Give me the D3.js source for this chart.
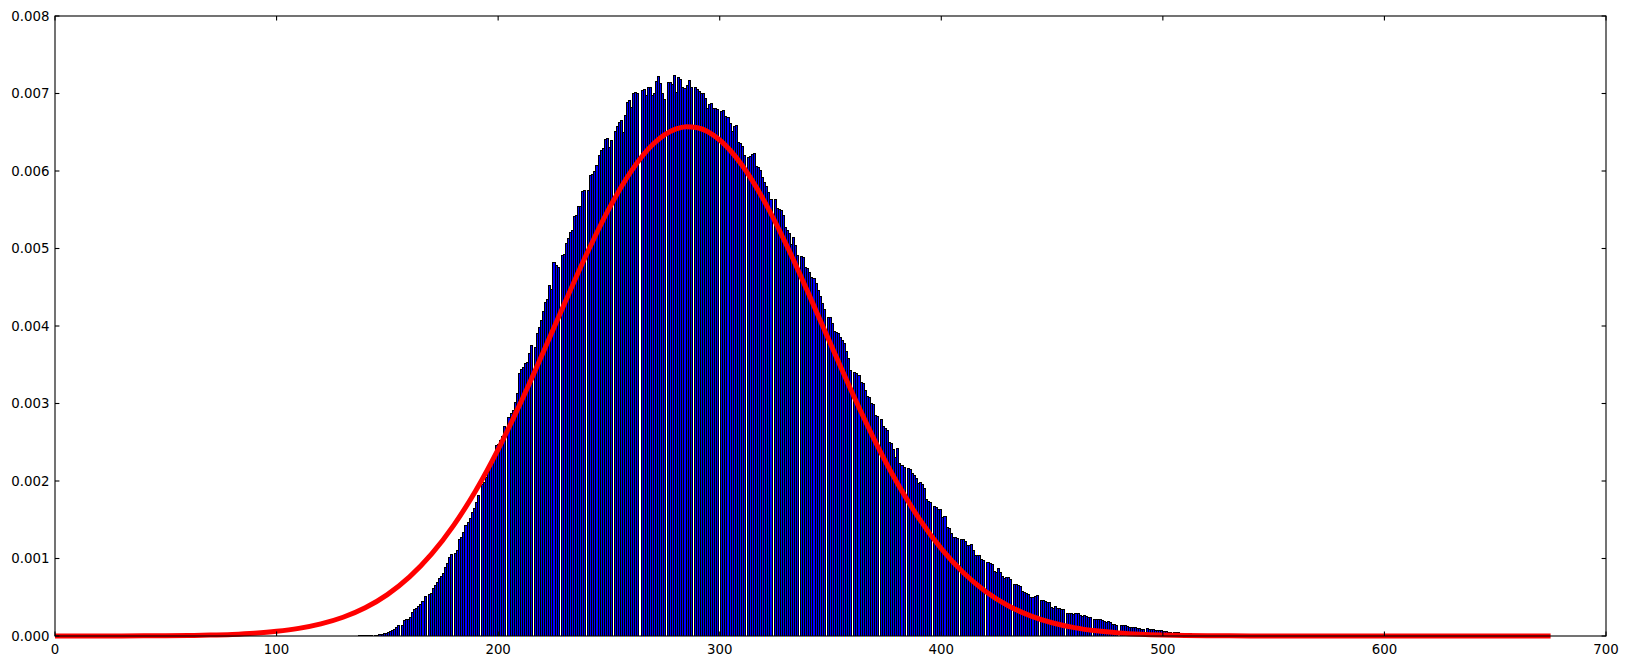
<!DOCTYPE html>
<html><head><meta charset="utf-8">
<script src="https://cdn.jsdelivr.net/npm/d3@7"></script>
<style>html,body{margin:0;padding:0;background:#fff;} svg{display:block;}</style>
</head><body><svg id="chart" width="1628" height="666"></svg>
<script>
// Histogram bins (first bin edge and width in x units)
const binStart = 131.22;
const binWidth = 0.92385;
// Bin densities, in thousandths (each group starts with an empty bin)
const densityMilli = [
  0, 0.000, 0.003, 0.004, 0.005, 0.006, 0.007, 0.008, 0.010, 0.011, 0.012, 0.014, 0.016,
  0, 0.013, 0.017, 0.020, 0.030, 0.034, 0.043, 0.056, 0.065, 0.077, 0.090, 0.110, 0.138,
  0, 0.146, 0.206, 0.215, 0.224, 0.249, 0.314, 0.344, 0.366, 0.387, 0.413, 0.456, 0.516,
  0, 0.542, 0.551, 0.615, 0.658, 0.701, 0.744, 0.774, 0.817, 0.895, 0.938, 1.015, 1.058,
  0, 1.075, 1.110, 1.247, 1.282, 1.346, 1.432, 1.467, 1.518, 1.604, 1.647, 1.725, 1.819,
  0, 1.961, 1.991, 2.056, 2.120, 2.185, 2.249, 2.323, 2.465, 2.477, 2.529, 2.581, 2.710,
  0, 2.822, 2.873, 2.916, 3.024, 3.131, 3.389, 3.441, 3.467, 3.518, 3.540, 3.647, 3.755,
  0, 3.733, 3.905, 3.991, 4.077, 4.198, 4.314, 4.344, 4.529, 4.473, 4.830, 4.787, 4.766,
  0, 4.916, 4.925, 5.075, 5.131, 5.217, 5.239, 5.419, 5.432, 5.553, 5.553, 5.746, 5.755,
  0, 5.755, 5.948, 5.961, 6.004, 6.077, 6.206, 6.271, 6.292, 6.409, 6.422, 6.305, 6.400,
  0, 6.516, 6.581, 6.637, 6.658, 6.508, 6.723, 6.895, 6.916, 6.830, 7.011, 7.024, 7.002,
  0, 7.045, 7.054, 6.981, 7.080, 7.088, 6.981, 7.002, 7.166, 7.230, 7.131, 7.002, 6.929,
  0, 7.153, 7.153, 7.123, 7.239, 7.024, 7.209, 7.183, 7.088, 7.067, 7.110, 7.174, 7.080,
  0, 7.080, 7.054, 7.037, 7.011, 7.002, 6.937, 6.809, 6.865, 6.882, 6.809, 6.809, 6.796,
  0, 6.778, 6.787, 6.710, 6.692, 6.624, 6.521, 6.581, 6.589, 6.378, 6.357, 6.323, 6.206,
  0, 6.185, 6.194, 6.215, 6.228, 6.065, 6.047, 6.013, 5.927, 5.862, 5.806, 5.733, 5.634,
  0, 5.634, 5.518, 5.505, 5.497, 5.432, 5.282, 5.239, 5.196, 5.058, 5.153, 5.045, 4.916,
  0, 4.903, 4.895, 4.766, 4.744, 4.697, 4.637, 4.615, 4.559, 4.464, 4.387, 4.301, 4.215,
  0, 4.120, 4.112, 4.034, 3.940, 3.927, 3.914, 3.854, 3.819, 3.785, 3.682, 3.583, 3.432,
  0, 3.410, 3.390, 3.370, 3.280, 3.270, 3.170, 3.100, 3.080, 3.010, 2.990, 2.850, 2.840,
  0, 2.804, 2.710, 2.680, 2.658, 2.508, 2.495, 2.409, 2.314, 2.422, 2.237, 2.206, 2.185,
  0, 2.163, 2.150, 2.108, 2.077, 2.034, 1.978, 1.991, 1.961, 1.905, 1.763, 1.746, 1.729,
  0, 1.677, 1.669, 1.634, 1.634, 1.540, 1.548, 1.402, 1.389, 1.333, 1.273, 1.273, 1.260,
  0, 1.256, 1.247, 1.230, 1.174, 1.178, 1.183, 1.110, 1.045, 1.041, 1.041, 0.989, 0.981,
  0, 0.959, 0.946, 0.929, 0.843, 0.830, 0.873, 0.830, 0.774, 0.753, 0.757, 0.766, 0.731,
  0, 0.671, 0.671, 0.654, 0.645, 0.585, 0.568, 0.551, 0.538, 0.508, 0.499, 0.516, 0.529,
  0, 0.464, 0.464, 0.452, 0.443, 0.439, 0.378, 0.366, 0.387, 0.357, 0.357, 0.353, 0.348,
  0, 0.301, 0.301, 0.292, 0.284, 0.297, 0.292, 0.271, 0.262, 0.267, 0.258, 0.249, 0.249,
  0, 0.224, 0.215, 0.215, 0.224, 0.206, 0.198, 0.181, 0.189, 0.181, 0.155, 0.151, 0.146,
  0, 0.142, 0.142, 0.138, 0.129, 0.120, 0.112, 0.116, 0.112, 0.103, 0.099, 0.095, 0.086,
  0, 0.099, 0.090, 0.086, 0.086, 0.082, 0.077, 0.077, 0.073, 0.069, 0.060, 0.056, 0.052,
  0, 0.052, 0.047, 0.047, 0.043, 0.043, 0.039, 0.039, 0.034, 0.034, 0.030, 0.030, 0.026,
  0, 0.022, 0.020, 0.017, 0.015, 0.013, 0.011, 0.010, 0.009, 0.008, 0.007, 0.006, 0.005
];
// Red fitted curve, read at these x positions (values in thousandths)
const curveX = [0,10,20,30,40,50,60,70,80,90,100,110,120,130,140,150,160,170,180,190,
  200,210,220,230,240,250,260,270,280,285,290,300,310,320,330,340,350,360,370,380,390,
  400,410,420,430,440,450,460,470,480,490,500,510,520,530,540,550,560,570,580,600,625,650,675];
const curveYMilli = [0.0001,0.0002,0.0004,0.0009,0.0018,0.0034,0.0064,0.0117,0.0207,0.0358,
  0.0601,0.0982,0.1562,0.2417,0.3643,0.5341,0.7622,1.0588,1.4305,1.8815,
  2.4086,3.0014,3.639,4.294,4.932,5.512,5.996,6.348,6.540,6.572,6.558,6.400,6.078,5.618,5.054,4.424,3.770,3.126,2.522,1.981,1.515,
  1.1265,0.8156,0.5748,0.3943,0.2630,0.1708,0.1080,0.0664,0.0398,0.0232,0.0132,0.0073,0.0039,0.0020,0.0010,0.0005,0.0002,0.0001,0,0,0,0,0];
const xTicks = [0,100,200,300,400,500,600,700];
const xTickLabels = ["0","100","200","300","400","500","600","700"];
const yTicks = [0,0.001,0.002,0.003,0.004,0.005,0.006,0.007,0.008];
const yTickLabels = ["0.000","0.001","0.002","0.003","0.004","0.005","0.006","0.007","0.008"];

const density = densityMilli.map(d => d / 1000);
const curveY = curveYMilli.map(d => d / 1000);

const W = 1628, H = 666;
const plot = {left: 55, right: 1606, top: 16, bottom: 636};
const svg = d3.select("#chart");
svg.append("rect").attr("width", W).attr("height", H).attr("fill", "#fff");

const x = d3.scaleLinear().domain([0, 700]).range([plot.left, plot.right]);
const y = d3.scaleLinear().domain([0, 0.008]).range([plot.bottom, plot.top]);

// bars snapped to the pixel grid: black outline pixels, blue interior
const bars = density.map((d, i) => ({x0: binStart + i * binWidth, x1: binStart + (i + 1) * binWidth, v: d}))
  .filter(b => b.v > 0)
  .map(b => ({L: Math.round(x(b.x0)), R: Math.round(x(b.x1)), T: Math.round(y(b.v)), B: Math.round(y(0))}));
const barG = svg.append("g").attr("shape-rendering", "crispEdges");
barG.selectAll("rect.edge").data(bars).join("rect").attr("class", "edge")
  .attr("x", b => b.L).attr("width", b => b.R - b.L + 1)
  .attr("y", b => b.T).attr("height", b => Math.max(0, b.B - b.T))
  .attr("fill", "#000");
barG.selectAll("rect.face").data(bars).join("rect").attr("class", "face")
  .attr("x", b => b.L + 1).attr("width", b => Math.max(0, b.R - b.L - 1))
  .attr("y", b => b.T + 1).attr("height", b => Math.max(0, b.B - b.T - 1))
  .attr("fill", "#0000ff");

const pts = curveX.map((xv, i) => [xv, curveY[i]]);
svg.append("path")
  .attr("d", d3.line().x(p => x(p[0])).y(p => y(p[1])).curve(d3.curveMonotoneX)(pts))
  .attr("fill", "none").attr("stroke", "#ff0000").attr("stroke-width", 5)
  .attr("stroke-linejoin", "round");

// frame
svg.append("rect").attr("x", plot.left).attr("y", plot.top)
  .attr("width", plot.right - plot.left).attr("height", plot.bottom - plot.top)
  .attr("fill", "none").attr("stroke", "#000").attr("stroke-width", 1.1);

const tl = 4.4;
const fs = 13.33;
const axisG = svg.append("g").attr("font-family", "DejaVu Sans, sans-serif").attr("font-size", fs).attr("fill", "#000");
xTicks.forEach((t, i) => {
  const px = x(t);
  axisG.append("line").attr("x1", px).attr("x2", px).attr("y1", plot.bottom).attr("y2", plot.bottom - tl).attr("stroke", "#000").attr("stroke-width", 1.1);
  axisG.append("line").attr("x1", px).attr("x2", px).attr("y1", plot.top).attr("y2", plot.top + tl).attr("stroke", "#000").attr("stroke-width", 1.1);
  axisG.append("text").attr("x", px).attr("y", plot.bottom + 18.3).attr("text-anchor", "middle").text(xTickLabels[i]);
});
yTicks.forEach((t, i) => {
  const py = y(t);
  axisG.append("line").attr("x1", plot.left).attr("x2", plot.left + tl).attr("y1", py).attr("y2", py).attr("stroke", "#000").attr("stroke-width", 1.1);
  axisG.append("line").attr("x1", plot.right).attr("x2", plot.right - tl).attr("y1", py).attr("y2", py).attr("stroke", "#000").attr("stroke-width", 1.1);
  axisG.append("text").attr("x", plot.left - 5.6).attr("y", py + 4.86).attr("text-anchor", "end").text(yTickLabels[i]);
});
</script>
</body></html>
